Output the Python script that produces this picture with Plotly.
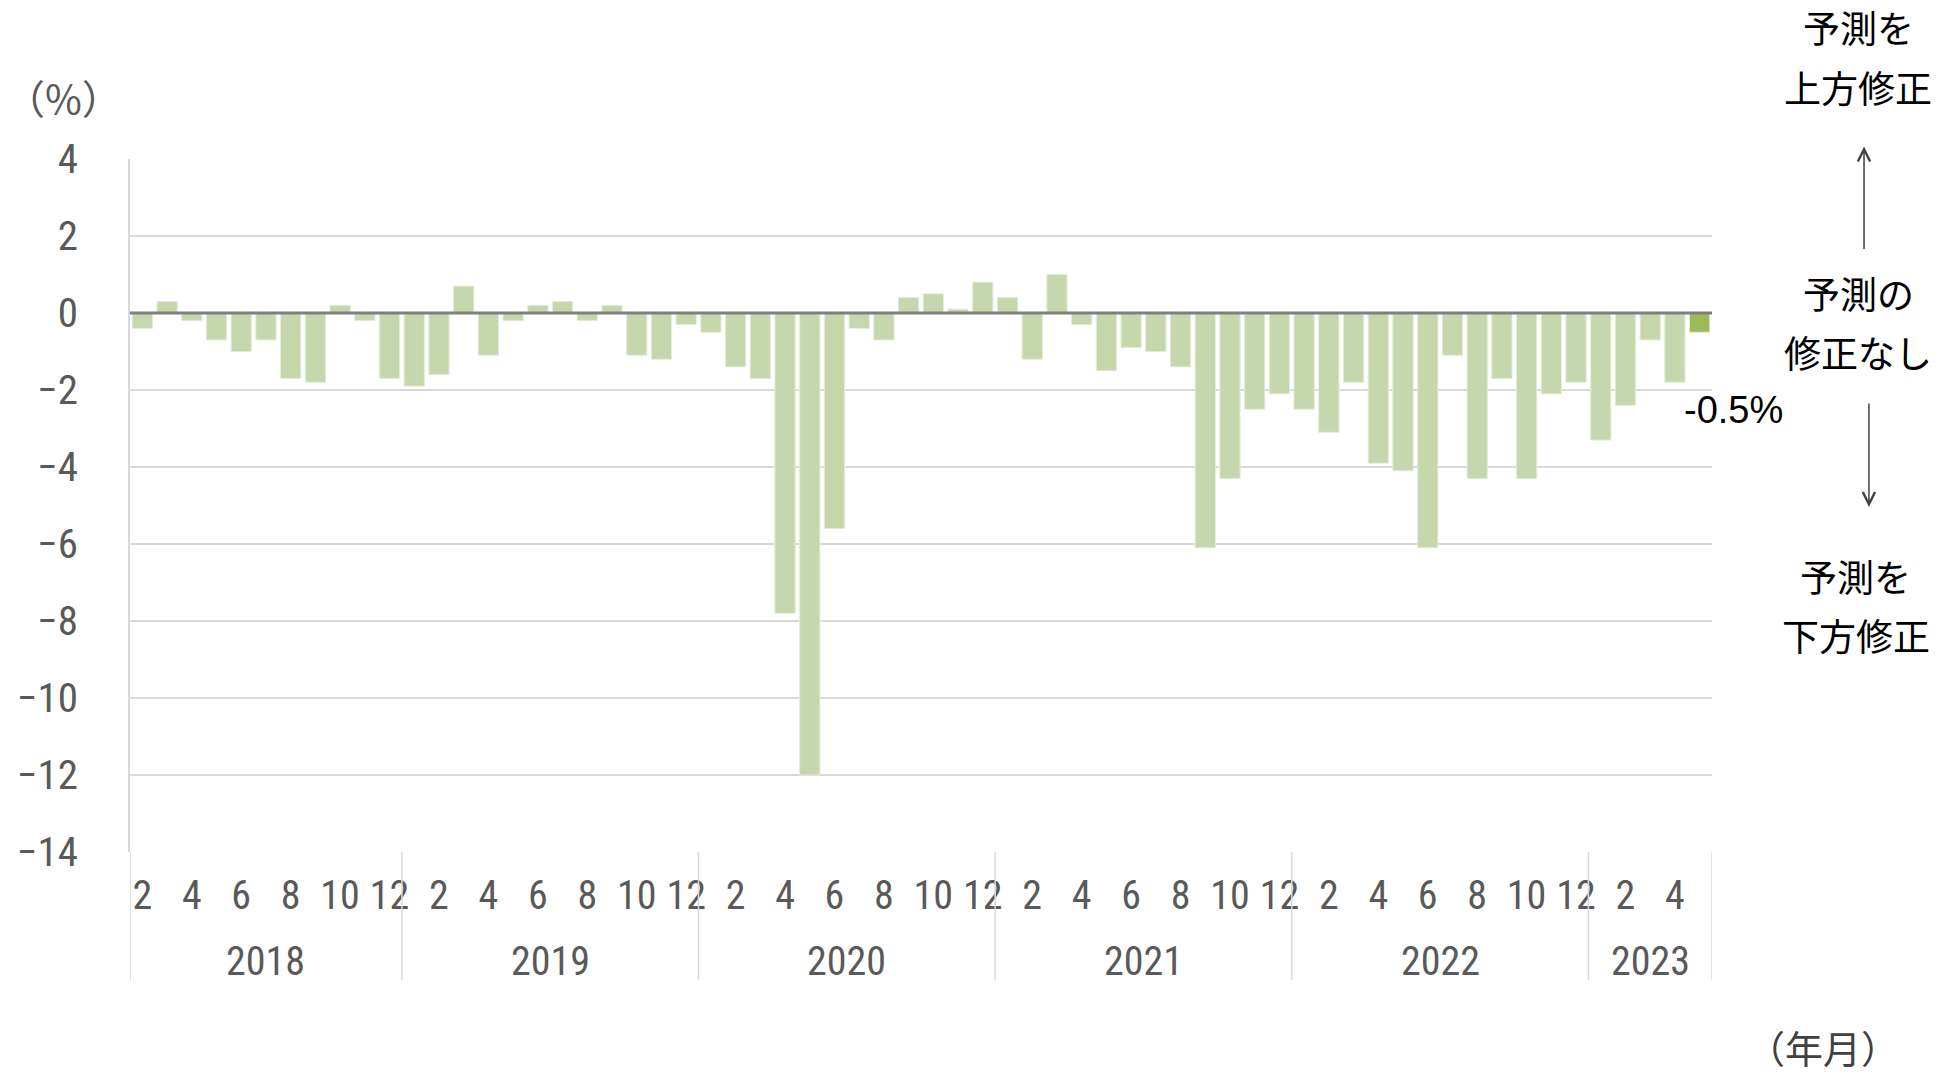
import plotly.graph_objects as go

# ---- data ----
year_labels = ["2018", "2019", "2020", "2021", "2022", "2023"]
months_2018 = [2, 3, 4, 5, 6, 7, 8, 9, 10, 11, 12]
months_full = [1, 2, 3, 4, 5, 6, 7, 8, 9, 10, 11, 12]
months_2023 = [1, 2, 3, 4, 5]

v2018 = [-0.4, 0.3, -0.2, -0.7, -1.0, -0.7, -1.7, -1.8, 0.2, -0.2, -1.7]
v2019 = [-1.9, -1.6, 0.7, -1.1, -0.2, 0.2, 0.3, -0.2, 0.2, -1.1, -1.2, -0.3]
v2020 = [-0.5, -1.4, -1.7, -7.8, -12.0, -5.6, -0.4, -0.7, 0.4, 0.5, 0.1, 0.8]
v2021 = [0.4, -1.2, 1.0, -0.3, -1.5, -0.9, -1.0, -1.4, -6.1, -4.3, -2.5, -2.1]
v2022 = [-2.5, -3.1, -1.8, -3.9, -4.1, -6.1, -1.1, -4.3, -1.7, -4.3, -2.1, -1.8]
v2023 = [-3.3, -2.4, -0.7, -1.8, -0.5]

yticks = [4, 2, 0, -2, -4, -6, -8, -10, -12, -14]
last_label = "-0.5%"

# ---- build ----
month_groups = [months_2018, months_full, months_full, months_full, months_full, months_2023]
value_groups = [v2018, v2019, v2020, v2021, v2022, v2023]

months, values, years = [], [], []
for yl, ms, vs in zip(year_labels, month_groups, value_groups):
    months += ms
    values += vs
    years += [yl] * len(ms)

n = len(values)
xs = list(range(n))

BAR = "#C6D7AE"
HIGHLIGHT = "#9BBB59"
colors = [BAR] * (n - 1) + [HIGHLIGHT]

NARROW = "Roboto Condensed, Liberation Sans Narrow, Roboto, sans-serif"
CJK = "Noto Sans CJK JP, sans-serif"
GRAY_TXT = "#595959"

fig = go.Figure()
fig.add_trace(go.Bar(
    x=xs, y=values, marker=dict(color=colors, line=dict(color="#E4ECD8", width=1)),
    width=0.82, hoverinfo="skip", showlegend=False,
))

tickvals = [i for i, m in enumerate(months) if m % 2 == 0]
ticktext = [str(months[i]) for i in tickvals]

fig.update_xaxes(
    range=[-0.5, n - 0.5], showgrid=False, zeroline=False, showline=False, automargin=False,
    tickmode="array", tickvals=tickvals, ticktext=ticktext, ticks="",
    tickfont=dict(family=NARROW, size=40, color=GRAY_TXT), ticklabelstandoff=16,
)
fig.update_yaxes(
    range=[-14, 4], tickmode="array", tickvals=yticks, automargin=False,
    ticktext=[str(t).replace("-", "\u2212") for t in yticks],
    showgrid=True, gridcolor="#D9D9D9", gridwidth=1.5, zeroline=False,
    showline=True, linecolor="#D9D9D9", linewidth=1.5, ticks="",
    tickfont=dict(family=NARROW, size=41, color=GRAY_TXT), ticklabelstandoff=42,
)

shapes = []
# zero line above bars
shapes.append(dict(type="line", xref="paper", yref="y", x0=0, x1=1, y0=0, y1=0,
                   line=dict(color="#7F7F7F", width=3), layer="above"))
# year dividers below plot
bounds = [-0.5]
start = 0
centers = []
for yl, ms in zip(year_labels, month_groups):
    end = start + len(ms)
    bounds.append(end - 0.5)
    centers.append((start + end - 1) / 2)
    start = end
for b in bounds:
    shapes.append(dict(type="line", xref="x", yref="paper", x0=b, x1=b, y0=0, y1=-0.185,
                       line=dict(color="#D9D9D9", width=1.5)))

annotations = []
for yl, c in zip(year_labels, centers):
    annotations.append(dict(x=c, y=-0.158, xref="x", yref="paper", text=yl, showarrow=False,
                            xanchor="center", yanchor="middle",
                            font=dict(family=NARROW, size=40, color=GRAY_TXT)))

# units
annotations.append(dict(x=-0.0805, y=1.09, xref="paper", yref="paper", text="（%）", showarrow=False,
                        xanchor="left", yanchor="middle", font=dict(family=CJK, size=40, color=GRAY_TXT)))
annotations.append(dict(x=1.070, y=-0.281, xref="paper", yref="paper", text="（年月）", showarrow=False,
                        xanchor="center", yanchor="middle", font=dict(family=CJK, size=38, color="#404040")))

# last value label
annotations.append(dict(x=xs[-1], y=values[-1], xref="x", yref="y", text=last_label, showarrow=False,
                        xanchor="center", yanchor="middle", xshift=34, yshift=-78,
                        font=dict(family="Liberation Sans, Arial, sans-serif", size=38, color="#000000")))

# right-side explanation
side = [("予測を", 1.0923, 1.190), ("上方修正", 1.0923, 1.1034),
        ("予測の", 1.0923, 0.8063), ("修正なし", 1.0923, 0.7212),
        ("予測を", 1.091, 0.3981), ("下方修正", 1.091, 0.3130)]
for t, xp, yp in side:
    annotations.append(dict(x=xp, y=yp, xref="paper", yref="paper", text=t, showarrow=False,
                            xanchor="center", yanchor="middle", font=dict(family=CJK, size=37, color="#000000")))

# arrows
annotations.append(dict(x=1.0961, y=1.018, xref="paper", yref="paper", ax=0, ay=104, text="",
                        showarrow=True, arrowhead=5, arrowsize=1.6, arrowwidth=1.5, arrowcolor="#404040"))
annotations.append(dict(x=1.0992, y=0.498, xref="paper", yref="paper", ax=0, ay=-105, text="",
                        showarrow=True, arrowhead=5, arrowsize=1.6, arrowwidth=1.5, arrowcolor="#404040"))

fig.update_layout(
    width=1959, height=1075, autosize=False,
    margin=dict(l=130, r=247, t=159, b=223, pad=0),
    plot_bgcolor="white", paper_bgcolor="white",
    bargap=0.18, shapes=shapes, annotations=annotations,
)

fig.write_html("out.html", config={"displayModeBar": False},
               post_script="document.body.style.margin='0';document.body.style.overflow='hidden';")
